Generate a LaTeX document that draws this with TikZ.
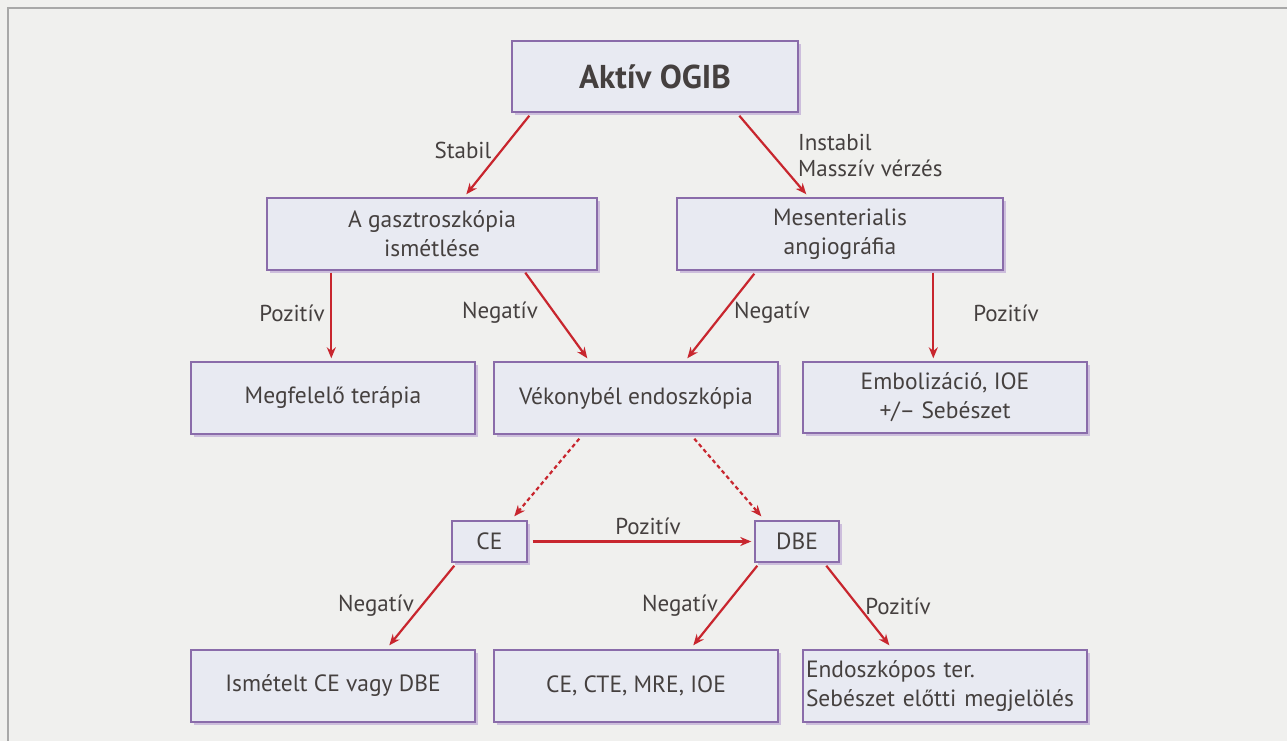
\documentclass[tikz,border=0pt]{standalone}
\usepackage{fontspec}
\setmainfont{PT Sans}
\usetikzlibrary{arrows.meta,calc,shadows}
\definecolor{bgcol}{HTML}{F0F0EE}
\definecolor{framecol}{HTML}{A8A8A8}
\definecolor{boxfill}{HTML}{E8EAF2}
\definecolor{boxborder}{HTML}{8A6CAA}
\definecolor{shadowcol}{HTML}{CDBEDC}
\definecolor{arrowred}{HTML}{C8262E}
\definecolor{txt}{HTML}{45403F}
\tikzset{
  box/.style={draw=boxborder, line width=1.4pt, fill=boxfill, inner sep=0pt, align=center,
    text=txt, font=\fontsize{23.5}{29}\selectfont,
    drop shadow={shadow xshift=3pt, shadow yshift=-3pt, fill=shadowcol, opacity=1}},
  lbl/.style={text=txt, font=\fontsize{23}{26}\selectfont, inner sep=0pt, align=left},
  arr/.style={draw=arrowred, line width=2.2pt, -{Stealth[length=11pt,width=9pt]}},
  darr/.style={arr, dash pattern=on 4pt off 3pt}
}
\begin{document}
\begin{tikzpicture}[x=1pt,y=-1pt]
\path[use as bounding box] (0,0) rectangle (1287,741);
\clip (0,0) rectangle (1287,741);
\fill[bgcol] (0,0) rectangle (1287,741);
\draw[framecol, line width=1.2pt] (8,760) -- (8,8) -- (1300,8);

% boxes
\node[box, minimum width=286pt, minimum height=71pt, font=\fontsize{33}{36}\selectfont\bfseries] (ogib) at (655,76.5) {Aktív OGIB};
\node[box, minimum width=330pt, minimum height=72pt] (gastro) at (432,234) {A gasztroszkópia\\ismétlése};
\node[box, minimum width=326pt, minimum height=72pt] (mesent) at (840,234) {Mesenterialis\\angiográfia};
\node[box, minimum width=284pt, minimum height=72pt] (megf) at (333,398) {Megfelelő terápia};
\node[box, minimum width=284pt, minimum height=72pt] (vekony) at (636,398) {Vékonybél endoszkópia};
\node[box, minimum width=284pt, minimum height=71pt] (embol) at (945,397.5) {Embolizáció, IOE\\+/– Sebészet};
\node[box, minimum width=75pt, minimum height=41pt] (ce) at (489.5,541.5) {CE};
\node[box, minimum width=84pt, minimum height=41pt] (dbe) at (797,541.5) {DBE};
\node[box, minimum width=284pt, minimum height=72pt] (ism) at (333,686) {Ismételt CE vagy DBE};
\node[box, minimum width=284pt, minimum height=72pt] (cecte) at (636,686) {CE, CTE, MRE, IOE};
\node[box, minimum width=284pt, minimum height=72pt, text width=278pt, align=left] (endo) at (945,686) {Endoszkópos ter.\\Sebészet előtti megjelölés};

% connectors
\draw[arr] ($(ogib.south west)+(18,3)$) -- ($(gastro.north west)+(200,-3)$);
\draw[arr] ($(ogib.south west)+(228,3)$) -- ($(mesent.north west)+(130,-3)$);
\draw[arr] ($(gastro.south west)+(65,2)$) -- ($(megf.north west)+(141,-3)$);
\draw[arr] ($(gastro.south west)+(259,2)$) -- ($(vekony.north west)+(94,-3)$);
\draw[arr] ($(mesent.south west)+(78,3)$) -- ($(vekony.north west)+(194,-3)$);
\draw[arr] ($(mesent.south west)+(257,2)$) -- ($(embol.north west)+(131,-3)$);
\draw[darr] ($(vekony.south west)+(86,4)$) -- ($(ce.north west)+(63,-4)$);
\draw[darr] ($(vekony.south west)+(201,4)$) -- ($(dbe.north west)+(7,-4)$);
\draw[arr] ($(ce.east)+(5,0)$) -- ($(dbe.west)+(-3,0)$);
\draw[arr] ($(ce.south west)+(3,3)$) -- ($(ism.north west)+(199,-4)$);
\draw[arr] ($(dbe.south west)+(3,3)$) -- ($(cecte.north west)+(200,-4)$);
\draw[arr] ($(dbe.south west)+(72,3)$) -- ($(endo.north west)+(87,-4)$);

% labels
\node[lbl] (lstabil) at (463,150) {Stabil};
\node[lbl, anchor=west] (linstabil) at (798,155) {Instabil\\Masszív vérzés};
\node[lbl] (lpoz1) at (292,313) {Pozitív};
\node[lbl] (lneg1) at (500,313) {Negatív};
\node[lbl] (lneg2) at (772,313) {Negatív};
\node[lbl] (lpoz2) at (1006,313) {Pozitív};
\node[lbl] (lpoz3) at (648,526) {Pozitív};
\node[lbl] (lneg3) at (376,606) {Negatív};
\node[lbl] (lneg4) at (680,606) {Negatív};
\node[lbl] (lpoz4) at (898,606) {Pozitív};
\end{tikzpicture}
\end{document}
